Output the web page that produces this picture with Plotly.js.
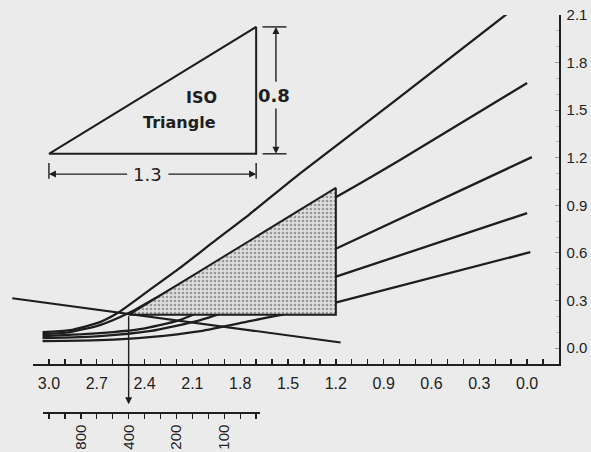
<!DOCTYPE html>
<html><head><meta charset="utf-8">
<script src="https://cdn.plot.ly/plotly-3.0.1.min.js"></script>
<style>html,body{margin:0;padding:0;background:#ebebeb}</style>
</head><body><div id="chart" style="width:591px;height:452px"></div>
<script>
const BG = '#ebebeb', INK = '#1e1e1e';

// Characteristic curves: relative log exposure vs density
const curveA_logE = [3.04, 2.87, 2.68, 2.57, 2.37, 2.18, 1.97, 1.74, 1.43, 0.84, 0.12];
const curveA_dens = [0.100, 0.113, 0.164, 0.221, 0.366, 0.504, 0.668, 0.845, 1.097, 1.551, 2.112];
const curveB_logE = [3.04, 2.87, 2.68, 2.50, 2.30, 2.03, 1.61, 1.19, 0.80, 0.00];
const curveB_dens = [0.088, 0.101, 0.145, 0.221, 0.334, 0.492, 0.731, 0.958, 1.185, 1.671];
const curveC_logE = [3.04, 2.68, 2.43, 2.18, 1.93, 1.68, 1.19, -0.03];
const curveC_dens = [0.076, 0.095, 0.120, 0.177, 0.284, 0.404, 0.631, 1.204];
const curveD_logE = [3.04, 2.68, 2.37, 2.05, 1.74, 1.19, 0.00];
const curveD_dens = [0.063, 0.076, 0.107, 0.177, 0.277, 0.454, 0.851];
const curveE_logE = [3.04, 2.68, 2.37, 2.05, 1.74, 1.43, 1.19, -0.02];
const curveE_dens = [0.044, 0.050, 0.069, 0.107, 0.170, 0.233, 0.290, 0.605];
const lineF_logE = [3.23, 1.17];
const lineF_dens = [0.315, 0.035];

// ISO triangle
const isoPointLogE = 2.5;    // speed point M
const isoPointDens = 0.21;
const isoWidth = 1.3;        // delta log exposure
const isoHeight = 0.8;       // delta density
const legendOriginLogE = 3.0;
const legendOriginDens = 1.225;

// ISO speed scale
const isoSpeeds = [800, 400, 200, 100];
const isoSpeedLogE = [2.8, 2.5, 2.2, 1.9];

const W = 591, H = 452;
const px = v => v / W, py = v => 1 - v / H;
const CLEAR = 'rgba(0,0,0,0)';

const curveLine = {color: INK, width: 2.3, shape: 'spline', smoothing: 0.6};
const curves = [[curveA_logE, curveA_dens], [curveB_logE, curveB_dens], [curveC_logE, curveC_dens],
                [curveD_logE, curveD_dens], [curveE_logE, curveE_dens]];
const traces = curves.map(([x, y]) => ({x, y, type: 'scatter', mode: 'lines', line: curveLine,
  hoverinfo: 'skip', showlegend: false, xaxis: 'x', yaxis: 'y'}));

// shaded ISO triangle at the speed point
const triX = [isoPointLogE, isoPointLogE - isoWidth, isoPointLogE - isoWidth, isoPointLogE];
const triY = [isoPointDens, isoPointDens, isoPointDens + isoHeight, isoPointDens];
traces.push({x: triX, y: triY, type: 'scatter', mode: 'lines', fill: 'toself',
  fillcolor: '#d6d6d6',
  fillpattern: {shape: '.', bgcolor: '#dedede', fgcolor: '#999999', size: 4, solidity: 0.35},
  line: {color: INK, width: 2}, hoverinfo: 'skip', showlegend: false, xaxis: 'x', yaxis: 'y'});

// legend triangle
const legX = [legendOriginLogE, legendOriginLogE - isoWidth, legendOriginLogE - isoWidth, legendOriginLogE];
const legY = [legendOriginDens, legendOriginDens, legendOriginDens + isoHeight, legendOriginDens];
traces.push({x: legX, y: legY, type: 'scatter', mode: 'lines', line: {color: INK, width: 2},
  hoverinfo: 'skip', showlegend: false, xaxis: 'x', yaxis: 'y'});

// descending line (extends left of axis)
traces.push({x: lineF_logE, y: lineF_dens, type: 'scatter', mode: 'lines', line: {color: INK, width: 2},
  hoverinfo: 'skip', showlegend: false, xaxis: 'x2', yaxis: 'y'});

// ISO scale carrier
traces.push({x: isoSpeedLogE, y: isoSpeedLogE.map(() => 0), type: 'scatter', mode: 'markers',
  marker: {opacity: 0}, hoverinfo: 'skip', showlegend: false, xaxis: 'x3', yaxis: 'y3'});

const axFont = {family: 'Liberation Sans, Arial, sans-serif', size: 16, color: '#222'};
const L = legendOriginLogE, R = legendOriginLogE - isoWidth, B = legendOriginDens, T = legendOriginDens + isoHeight;
const dimY = B - 0.128, dimX = R - 0.124;

const layout = {
  width: W, height: H, margin: {l: 0, r: 0, t: 0, b: 0},
  paper_bgcolor: BG, plot_bgcolor: CLEAR, showlegend: false,
  xaxis: {domain: [px(33), px(559)], range: [3.1, -0.2], anchor: 'y', showgrid: false, zeroline: false,
    showline: true, linecolor: INK, linewidth: 1.6, ticks: 'inside', ticklen: 5, tickwidth: 1.4, tickcolor: INK,
    tick0: 0, dtick: 0.3, tickformat: '.1f', tickfont: axFont, ticklabelstandoff: 4,
    minor: {tick0: 0, dtick: 0.1, ticks: 'inside', ticklen: 5, tickwidth: 1.4, tickcolor: INK}},
  yaxis: {domain: [py(364), py(15)], range: [-0.1, 2.1], anchor: 'x', side: 'right', showgrid: false, zeroline: false,
    showline: true, linecolor: INK, linewidth: 1.6, ticks: 'inside', ticklen: 4, tickwidth: 1, tickcolor: '#9a9a9a',
    tick0: 0, dtick: 0.3, tickformat: '.1f', tickfont: {...axFont, size: 15}, ticklabelstandoff: 3,
    minor: {tick0: 0, dtick: 0.1, ticks: 'inside', ticklen: 3, tickwidth: 1, tickcolor: '#b5b5b5'}},
  xaxis2: {domain: [0, px(559)], range: [3.1 + 33 / 159.4, -0.2], anchor: 'y', visible: false},
  xaxis3: {domain: [px(43), px(260)], range: [3.1 - 10 / 159.4, 3.1 - 227 / 159.4], anchor: 'y3',
    showgrid: false, zeroline: false, showline: true, linecolor: INK, linewidth: 1.6,
    ticks: 'outside', ticklen: 5, tickwidth: 1.4, tickcolor: INK,
    tickmode: 'array', tickvals: isoSpeedLogE, ticktext: isoSpeeds.map(String), tickangle: -90,
    tickfont: {...axFont, size: 15}, ticklabelstandoff: 0,
    minor: {tick0: 0, dtick: 0.1, ticks: 'outside', ticklen: 5, tickwidth: 1.4, tickcolor: INK}},
  yaxis3: {domain: [py(412), py(405)], range: [0, 1], anchor: 'x3', visible: false},
  shapes: [
    {type: 'line', xref: 'x', yref: 'y', x0: L, x1: L, y0: dimY - 0.03, y1: dimY + 0.07, line: {color: INK, width: 1.4}},
    {type: 'line', xref: 'x', yref: 'y', x0: R, x1: R, y0: dimY - 0.03, y1: dimY + 0.07, line: {color: INK, width: 1.4}},
    {type: 'line', xref: 'x', yref: 'y', x0: R - 0.04, x1: R - 0.19, y0: T, y1: T, line: {color: INK, width: 1.4}},
    {type: 'line', xref: 'x', yref: 'y', x0: R - 0.04, x1: R - 0.19, y0: B, y1: B, line: {color: INK, width: 1.4}}
  ],
  annotations: [
    {x: 2.04, y: 1.58, xref: 'x', yref: 'y', text: 'ISO', showarrow: false,
      font: {family: 'DejaVu Sans', size: 16, color: INK, weight: 'bold'}},
    {x: 2.18, y: 1.42, xref: 'x', yref: 'y', text: 'Triangle', showarrow: false,
      font: {family: 'DejaVu Sans', size: 16, color: INK, weight: 'bold'}},
    {x: dimX + 0.01, y: 1.595, xref: 'x', yref: 'y', text: '0.8', showarrow: false,
      font: {family: 'DejaVu Sans', size: 18, color: INK, weight: 'bold'}},
    {x: 2.38, y: dimY, xref: 'x', yref: 'y', text: '1.3', showarrow: false,
      font: {family: 'DejaVu Sans', size: 18, color: INK}},
    {x: L, y: dimY, ax: 2.50, ay: dimY, xref: 'x', yref: 'y', axref: 'x', ayref: 'y', text: '',
      showarrow: true, arrowhead: 2, arrowsize: 1, arrowwidth: 1.4, arrowcolor: INK, standoff: 0},
    {x: R, y: dimY, ax: 2.26, ay: dimY, xref: 'x', yref: 'y', axref: 'x', ayref: 'y', text: '',
      showarrow: true, arrowhead: 2, arrowsize: 1, arrowwidth: 1.4, arrowcolor: INK, standoff: 0},
    {x: dimX, y: T, ax: dimX, ay: 1.67, xref: 'x', yref: 'y', axref: 'x', ayref: 'y', text: '',
      showarrow: true, arrowhead: 2, arrowsize: 1, arrowwidth: 1.4, arrowcolor: INK, standoff: 0},
    {x: dimX, y: B, ax: dimX, ay: 1.52, xref: 'x', yref: 'y', axref: 'x', ayref: 'y', text: '',
      showarrow: true, arrowhead: 2, arrowsize: 1, arrowwidth: 1.4, arrowcolor: INK, standoff: 0},
    {x: isoPointLogE, y: -0.353, ax: isoPointLogE, ay: isoPointDens, xref: 'x', yref: 'y', axref: 'x', ayref: 'y',
      text: '', showarrow: true, arrowhead: 2, arrowsize: 1, arrowwidth: 1.4, arrowcolor: INK, standoff: 0}
  ]
};

Plotly.newPlot('chart', traces, layout, {staticPlot: true, displayModeBar: false});
</script></body></html>
